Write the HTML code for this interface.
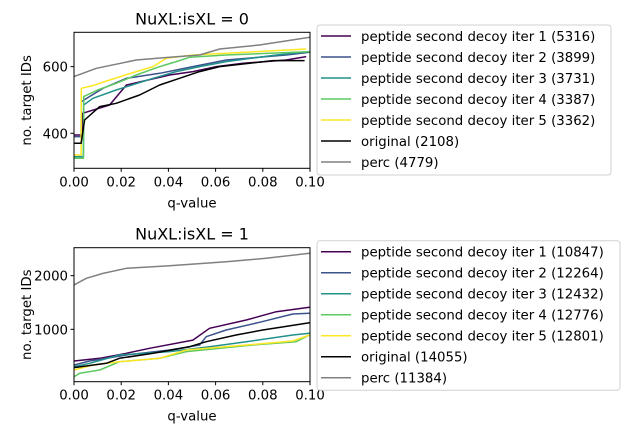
<!DOCTYPE html>
<html><head><meta charset="utf-8"><style>
body{margin:0;background:#fff;font-family:"DejaVu Sans","Liberation Sans",sans-serif}
svg text{font-family:"DejaVu Sans","Liberation Sans",sans-serif}
</style></head><body>
<svg id="c" width="629" height="436" xmlns="http://www.w3.org/2000/svg"></svg>
<script>
const colors=["#440154","#3b528b","#21918c","#5ec962","#fde725","#000000","#808080"];
const names=["peptide second decoy iter 1","peptide second decoy iter 2","peptide second decoy iter 3","peptide second decoy iter 4","peptide second decoy iter 5","original","perc"];
const countsTop=[5316,3899,3731,3387,3362,2108,4779];
const countsBot=[10847,12264,12432,12776,12801,14055,11384];
const xTicks=[0,0.02,0.04,0.06,0.08,0.1];
const xTickLabels=["0.00","0.02","0.04","0.06","0.08","0.10"];
const yTicksTop=[400,600];
const yTicksBot=[1000,2000];
const topQ=[
[0,0.0035,0.0036,0.0151,0.0222,0.0405,0.0504,0.0603,0.0716,0.0899,0.0984],
[0,0.003,0.0031,0.0123,0.0222,0.0363,0.0504,0.0645,0.0899,0.0998],
[0,0.004,0.0041,0.008,0.0179,0.0335,0.0433,0.0532,0.0645,0.0857,0.0998],
[0,0.004,0.0041,0.01,0.0179,0.0264,0.0363,0.0433,0.049,0.0645,0.0998],
[0,0.003,0.0031,0.008,0.0151,0.0264,0.0335,0.0391,0.0504,0.0645,0.0984],
[0,0.003,0.0045,0.0109,0.0179,0.0278,0.0363,0.0447,0.0532,0.0617,0.0744,0.0843,0.0977],
[0,0.0095,0.0264,0.0405,0.0532,0.0617,0.0786,0.1]
];
const topV=[
[395,395,460,485,545,575,585,600,610,620,630],
[390,390,495,535,565,580,600,620,635,643],
[330,330,485,505,530,565,585,600,615,635,645],
[325,325,510,530,550,575,600,615,628,635,645],
[335,335,535,543,560,585,600,625,635,640,653],
[370,370,440,480,490,515,545,565,585,600,610,618,618],
[570,595,620,628,635,653,665,688]
];
const botQ=[
[0,0.0109,0.0222,0.032,0.0504,0.0574,0.073,0.0857,0.0998],
[0,0.0066,0.0222,0.0405,0.0532,0.056,0.0645,0.0786,0.0927,0.0998],
[0,0.0066,0.0193,0.0405,0.0574,0.073,0.0927,0.0998],
[0,0.0024,0.0109,0.0193,0.0363,0.0476,0.0758,0.0941,0.0998],
[0,0.008,0.0193,0.0363,0.0476,0.073,0.0927,0.0998],
[0,0.0137,0.0193,0.0335,0.049,0.056,0.0687,0.08,0.0998],
[0,0.0052,0.0123,0.0222,0.0405,0.0645,0.0814,0.0998]
];
const botV=[
[410,460,553,646,800,1019,1174,1329,1410],
[335,410,522,615,708,863,988,1130,1286,1298],
[304,366,522,584,677,770,894,925],
[118,180,242,397,460,584,708,770,894],
[242,335,397,460,615,708,783,894],
[286,366,460,553,677,770,894,988,1124],
[1826,1950,2043,2137,2186,2260,2323,2416]
];
const svg=document.getElementById('c');
const NS="http://www.w3.org/2000/svg";
function mk(t,a,p){const e=document.createElementNS(NS,t);for(const k in a)e.setAttribute(k,a[k]);(p||svg).appendChild(e);return e;}
function panel(id,x0,x1,yT,yB,ymin,ymax,qs,vs,yticks,title,counts,lgX1,lgY,lgH){
  const g=mk('g',{});
  
  
  const sx=q=>x0+q/0.1*(x1-x0);
  const sy=v=>yB-(v-ymin)/(ymax-ymin)*(yB-yT);
  const cp=mk('clipPath',{id:'cp'+id},g);mk('rect',{x:x0,y:yT,width:x1-x0,height:yB-yT},cp);
  for(let s=0;s<qs.length;s++){
    let d='';const q=qs[s],v=vs[s];
    for(let i=0;i<q.length;i++){
      d+=(i==0?'M':'L')+sx(q[i]).toFixed(1)+' '+sy(v[i]).toFixed(1);
    }
    const p=mk('path',{d:d,fill:'none',stroke:colors[s],'stroke-width':1.5,'stroke-linejoin':'round','clip-path':'url(#cp'+id+')'},g);
    
    
  }
  mk('rect',{x:x0,y:yT,width:x1-x0,height:yB-yT,fill:'none',stroke:'#000','stroke-width':1},g);
  xTicks.forEach((t,i)=>{const X=sx(t);mk('line',{x1:X,x2:X,y1:yB,y2:yB+3.5,stroke:'#000'},g);
    const tx=mk('text',{x:X,y:yB+18,'font-size':13.3,'text-anchor':'middle'},g);tx.textContent=xTickLabels[i];
    
    });
  yticks.forEach(t=>{const Y=sy(t);mk('line',{x1:x0-3.5,x2:x0,y1:Y,y2:Y,stroke:'#000'},g);
    const tx=mk('text',{x:x0-6,y:Y+5,'font-size':13.3,'text-anchor':'end'},g);tx.textContent=t;
    
    });
  const xl=mk('text',{x:(x0+x1)/2,y:yB+39,'font-size':13.3,'text-anchor':'middle'},g);xl.textContent='q-value';
  
  
  const yl=mk('text',{x:0,y:0,'font-size':13.3,'text-anchor':'middle',transform:`translate(31,${(yT+yB)/2}) rotate(-90)`},g);yl.textContent='no. target IDs';
  
  
  const ti=mk('text',{x:(x0+x1)/2,y:yT-8,'font-size':16,'text-anchor':'middle'},g);ti.textContent=title;
  
  
  const lg=mk('g',{},g);
  
  
  mk('rect',{x:317,y:lgY,width:lgX1-317,height:lgH,rx:3,fill:'#fff',stroke:'#d0d0d0'},lg);
  for(let s=0;s<7;s++){const Y=lgY+11+s*21;
    mk('line',{x1:321,x2:351,y1:Y,y2:Y,stroke:colors[s],'stroke-width':1.5},lg);
    const tx=mk('text',{x:361,y:Y+5,'font-size':13.3},lg);tx.textContent=names[s]+' ('+counts[s]+')';
    
    }
}
panel('top',74,310,32.3,168.3,295,703,topQ,topV,yTicksTop,'NuXL:isXL = 0',countsTop,611,25,150);
panel('bottom',74,310,247.7,381.7,24,2521,botQ,botV,yTicksBot,'NuXL:isXL = 1',countsBot,620,240.7,149.5);
</script>
</body></html>
